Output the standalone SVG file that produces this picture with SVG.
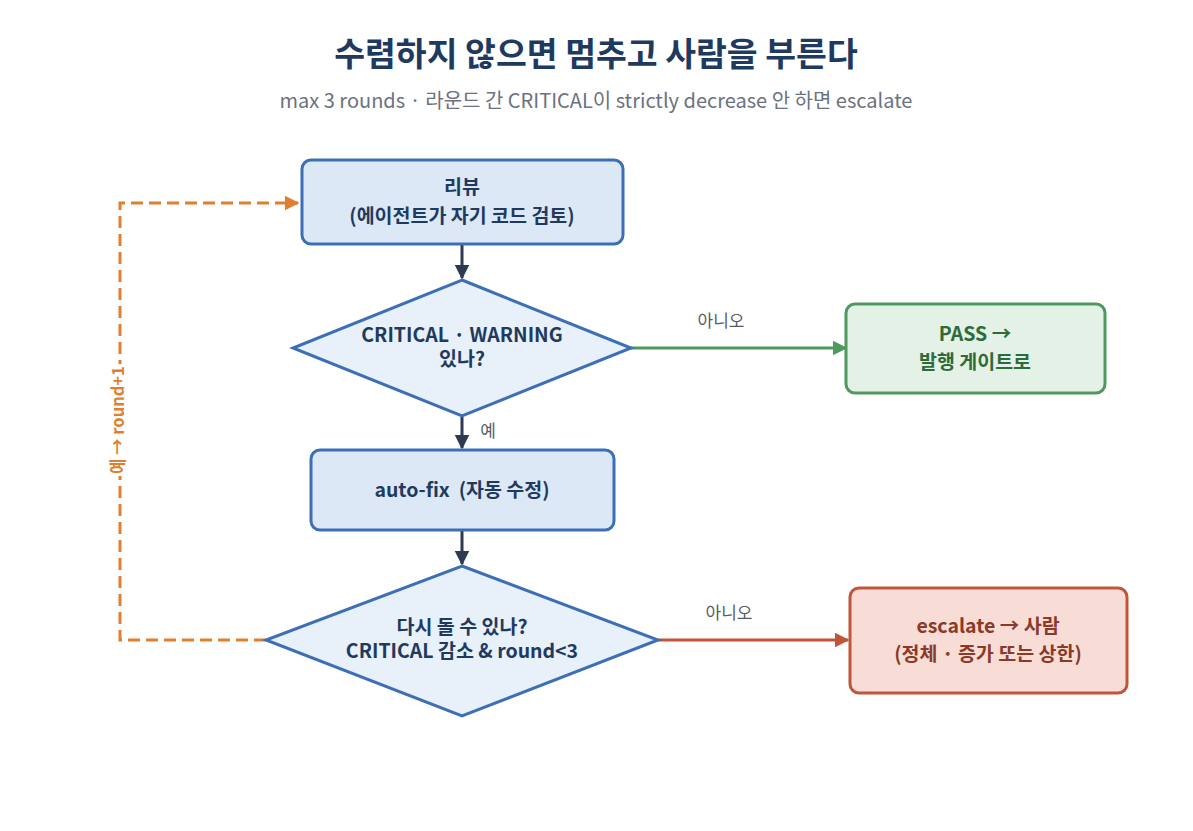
<svg xmlns="http://www.w3.org/2000/svg" width="1193" height="831" viewBox="0 0 1193 831">
<defs>
<style>
text{font-family:"Noto Sans CJK KR","Noto Sans",sans-serif;text-anchor:middle}
.title{font-size:33.5px;font-weight:700;fill:#1f3a5f}
.sub{font-size:20px;fill:#6b7280}
.n{font-size:19.5px;font-weight:700;fill:#1f3a5f}
.blue{fill:#dce8f5;stroke:#3d6fb5;stroke-width:3}
.dia{fill:#e8f0fa;stroke:#3d6fb5;stroke-width:3}
.lbl{font-size:17px;fill:#555c66}
</style>
<marker id="ad" viewBox="0 0 10 10" refX="9" refY="5" markerWidth="5" markerHeight="5" orient="auto" markerUnits="strokeWidth"><path d="M0,0L10,5L0,10z" fill="#2d3a50"/></marker>
<marker id="ag" viewBox="0 0 10 10" refX="9" refY="5" markerWidth="5" markerHeight="5" orient="auto" markerUnits="strokeWidth"><path d="M0,0L10,5L0,10z" fill="#4e9a5e"/></marker>
<marker id="ar" viewBox="0 0 10 10" refX="9" refY="5" markerWidth="5" markerHeight="5" orient="auto" markerUnits="strokeWidth"><path d="M0,0L10,5L0,10z" fill="#c0553a"/></marker>
<marker id="ao" viewBox="0 0 10 10" refX="9" refY="5" markerWidth="5" markerHeight="5" orient="auto" markerUnits="strokeWidth"><path d="M0,0L10,5L0,10z" fill="#e07f2e"/></marker>
</defs>
<rect width="1193" height="831" fill="#ffffff"/>
<text class="title" x="596" y="66">수렴하지 않으면 멈추고 사람을 부른다</text>
<text class="sub" x="596" y="108">max 3 rounds · 라운드 간 CRITICAL이 strictly decrease 안 하면 escalate</text>
<g id="connectors" fill="none">
<line x1="462" y1="245" x2="462" y2="278" stroke="#2d3a50" stroke-width="3" marker-end="url(#ad)"/>
<line x1="462" y1="417" x2="462" y2="448" stroke="#2d3a50" stroke-width="3" marker-end="url(#ad)"/>
<line x1="462" y1="531" x2="462" y2="564" stroke="#2d3a50" stroke-width="3" marker-end="url(#ad)"/>
<line x1="631" y1="348" x2="846" y2="348" stroke="#4e9a5e" stroke-width="3" marker-end="url(#ag)"/>
<line x1="658" y1="640" x2="848" y2="640" stroke="#c0553a" stroke-width="3" marker-end="url(#ar)"/>
<polyline points="266,640 120,640 120,203 298,203" stroke="#e07f2e" stroke-width="3" stroke-dasharray="12,6" marker-end="url(#ao)"/>
<text class="lbl" x="488" y="437">예</text>
<text class="lbl" x="721" y="327">아니오</text>
<text class="lbl" x="729" y="619">아니오</text>
<rect x="108" y="364" width="24" height="112" fill="#ffffff"/>
<text x="0" y="0" transform="translate(124,420) rotate(-90)" style="font-size:16.5px;font-weight:700;fill:#e07f2e">예 → round+1</text>
</g>
<g id="review">
<rect class="blue" x="302" y="160" width="321" height="84" rx="9"/>
<text class="n" x="462" y="194">리뷰</text>
<text class="n" x="462" y="223">(에이전트가 자기 코드 검토)</text>
</g>
<g id="check1">
<polygon class="dia" points="462,280 631,348 462,416 293,348"/>
<text class="n" x="462" y="342">CRITICAL · WARNING</text>
<text class="n" x="462" y="366">있나?</text>
</g>
<g id="autofix">
<rect class="blue" x="311" y="450" width="303" height="80" rx="9"/>
<text class="n" x="462" y="497">auto-fix&#160; (자동 수정)</text>
</g>
<g id="check2">
<polygon class="dia" points="462,566 658,640 462,716 266,640"/>
<text class="n" x="462" y="634">다시 돌 수 있나?</text>
<text class="n" x="462" y="658">CRITICAL 감소 &amp; round&lt;3</text>
</g>
<g id="pass">
<rect x="846" y="304" width="259" height="89" rx="9" fill="#e4f1e6" stroke="#4e9a5e" stroke-width="3"/>
<text class="n" x="975" y="341" style="fill:#2e6b3a">PASS →</text>
<text class="n" x="975" y="369" style="fill:#2e6b3a">발행 게이트로</text>
</g>
<g id="escalate">
<rect x="850" y="588" width="277" height="105" rx="9" fill="#f8ddd6" stroke="#c0553a" stroke-width="3"/>
<text class="n" x="988" y="633" style="fill:#8b3a2a">escalate → 사람</text>
<text class="n" x="988" y="661" style="fill:#8b3a2a">(정체 · 증가 또는 상한)</text>
</g>
</svg>
